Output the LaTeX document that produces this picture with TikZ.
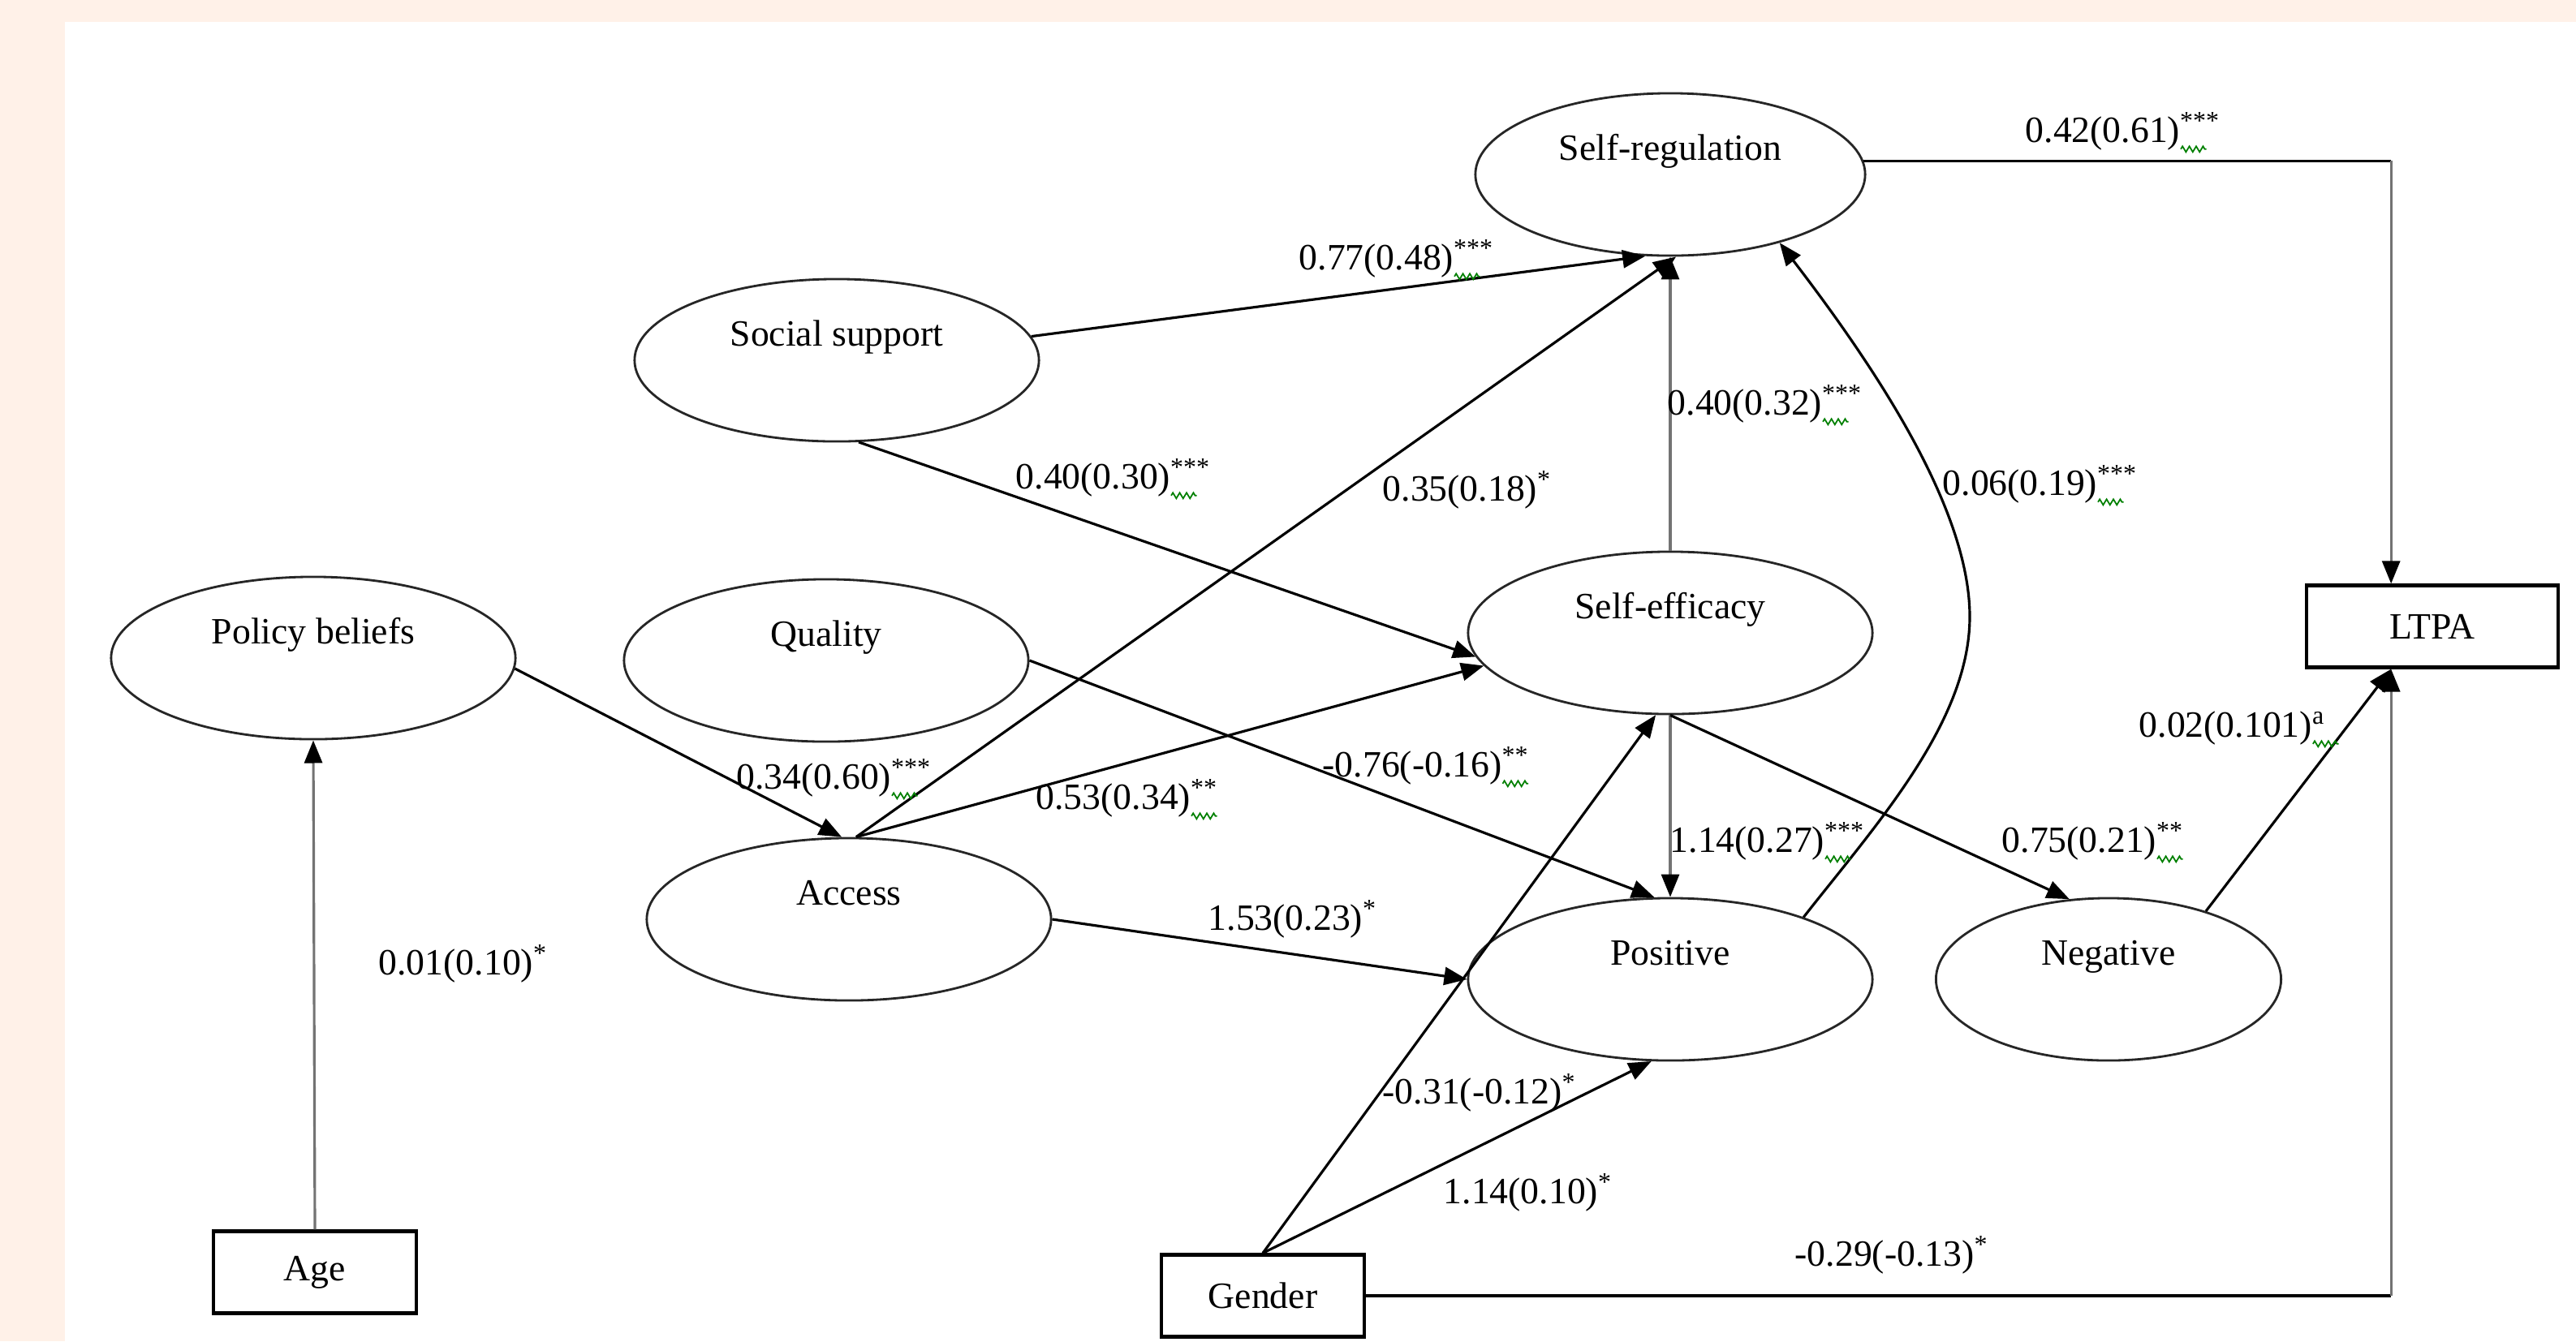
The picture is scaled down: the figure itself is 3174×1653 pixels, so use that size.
\documentclass[tikz,border=0pt]{standalone}
\usepackage{fontspec}
\setmainfont{Liberation Serif}
\usetikzlibrary{arrows.meta,shapes.geometric,decorations.pathmorphing}
\definecolor{peach}{RGB}{255,241,232}
\newcommand{\sig}[1]{\rlap{\tikz[baseline=0pt]\draw[green!50!black,line width=0.5pt,decorate,decoration={zigzag,segment length=2.4pt,amplitude=1pt}] (0pt,-2.5pt) -- (9pt,-2.5pt);}\textsuperscript{#1}}
\tikzset{
  factor/.style={ellipse,draw=black!85,line width=0.8pt,minimum width=4.98cm,minimum height=2cm,
    text height=0.35cm,text depth=0.71cm,font=\fontsize{13}{15}\selectfont},
  observed/.style={rectangle,draw,line width=1.2pt,minimum width=2.5cm,minimum height=1.01cm,
    font=\fontsize{13}{15}\selectfont},
  link/.style={->,line width=0.9pt},
  glink/.style={line width=0.9pt,draw=black!55,-{Triangle[length=0.28cm,width=0.22cm,black]}},
  coef/.style={anchor=base west,inner sep=0pt,font=\fontsize{13}{15}\selectfont}
}
\begin{document}
\begin{tikzpicture}[x=0.01cm,y=-0.01cm,>={Triangle[length=0.28cm,width=0.22cm]}]
\fill[peach] (0,0) rectangle (3174,1653);
\fill[white] (80,27) rectangle (3174,1653);

\node[factor,minimum width=4.8cm] (sr) at (2058,215) {Self-regulation};
\node[factor] (ss) at (1031,444) {Social support};
\node[factor] (pb) at (386,811) {Policy beliefs};
\node[factor] (qual) at (1018,814) {Quality};
\node[factor] (se) at (2058,780) {Self-efficacy};
\node[factor] (acc) at (1046,1133) {Access};
\node[factor] (pos) at (2058,1207) {Positive};
\node[factor,minimum width=4.25cm] (neg) at (2598,1207) {Negative};
\node[observed,minimum width=3.1cm] (ltpa) at (2997,772) {LTPA};
\node[observed] (age) at (388,1568) {Age};
\node[observed] (gen) at (1556,1597) {Gender};

\coordinate (c1) at (sr.4 -| ltpa.134);
\coordinate (c2) at (gen.east -| ltpa.-134);

\draw[link] (ss.7) -- (sr.253);
\draw[link] (ss.-75) -- (se.187);
\draw[link] (acc.85) -- (sr.-86);
\draw[link] (acc.85) -- (se.190);
\draw[link] (pb.-3) -- (acc.95);
\draw[link] (qual.east) -- (pos.101);
\draw[link] (acc.east) -- (pos.west);
\draw[glink] (se.north) -- (sr.south);
\draw[glink] (se.south) -- (pos.north);
\draw[link] (se.south) -- (neg.116);
\draw[link] (pos.25) .. controls (2311,1017) and (2427,890) .. (2427,760)
  .. controls (2427,630) and (2316,460) .. (sr.-32);
\draw[link] (neg.35) -- (ltpa.-134);
\draw[line width=0.9pt] (sr.4) -- (c1);
\draw[glink] (c1) -- (ltpa.134);
\draw[line width=0.9pt] (gen.east) -- (c2);
\draw[glink] (c2) -- (ltpa.-134);
\draw[link] (gen.north) -- (se.-100);
\draw[link] (gen.north) -- (pos.-103);
\draw[glink] (age.north) -- (pb.south);

\node[coef] (k1) at (2495,175) {0.42(0.61)\sig{***}};
\node[coef] (k2) at (1600,332) {0.77(0.48)\sig{***}};
\node[coef] (k3) at (1251,602) {0.40(0.30)\sig{***}};
\node[coef] (k4) at (1703,617) {0.35(0.18)\textsuperscript{*}};
\node[coef] (k5) at (2054,511) {0.40(0.32)\sig{***}};
\node[coef] (k6) at (2393,610) {0.06(0.19)\sig{***}};
\node[coef] (k7) at (907,972) {0.34(0.60)\sig{***}};
\node[coef] (k8) at (1276,997) {0.53(0.34)\sig{**}};
\node[coef] (k9) at (1629,957) {-0.76(-0.16)\sig{**}};
\node[coef] (k10) at (2057,1050) {1.14(0.27)\sig{***}};
\node[coef] (k11) at (2466,1050) {0.75(0.21)\sig{**}};
\node[coef] (k12) at (2635,908) {0.02(0.101)\sig{a}};
\node[coef] (k13) at (1488,1146) {1.53(0.23)\textsuperscript{*}};
\node[coef] (k14) at (466,1201) {0.01(0.10)\textsuperscript{*}};
\node[coef] (k15) at (1703,1360) {-0.31(-0.12)\textsuperscript{*}};
\node[coef] (k16) at (1778,1483) {1.14(0.10)\textsuperscript{*}};
\node[coef] (k17) at (2211,1560) {-0.29(-0.13)\textsuperscript{*}};
\end{tikzpicture}
\end{document}
